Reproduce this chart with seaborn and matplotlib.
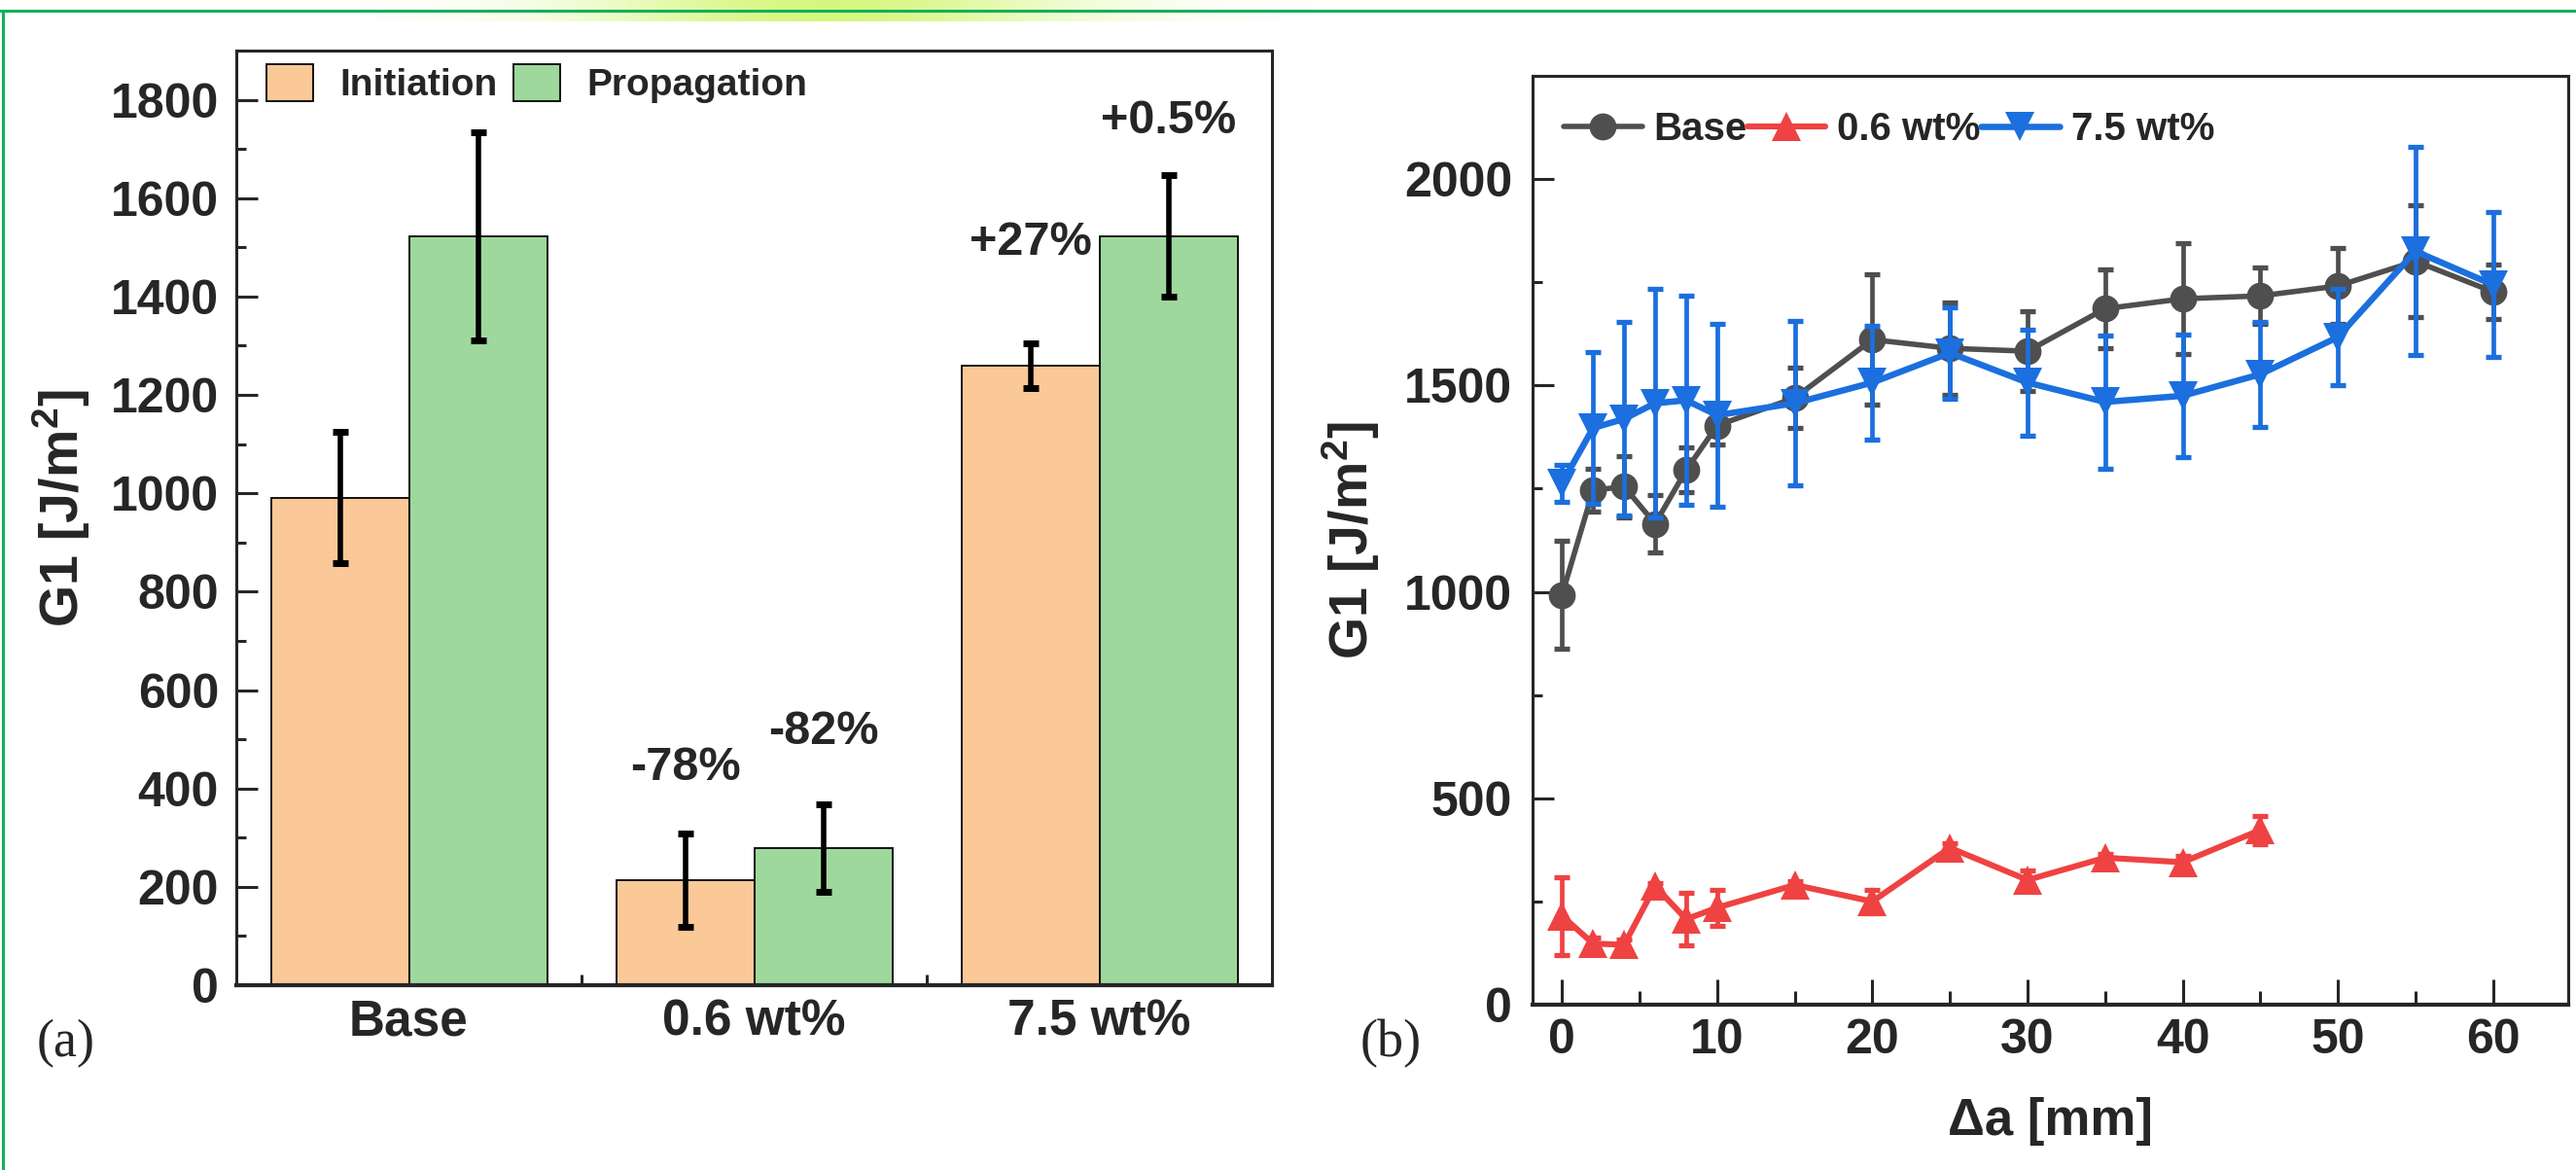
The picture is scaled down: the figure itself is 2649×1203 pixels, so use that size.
import numpy as np
import pandas as pd
import matplotlib.pyplot as plt
import seaborn as sns
from matplotlib.ticker import MultipleLocator, FixedLocator
from matplotlib.lines import Line2D
import matplotlib.patches as mpatches

# ---- (a) initiation / propagation bars
groups = ['Base', '0.6 wt%', '7.5 wt%']
init_mean = [991, 213, 1259]
init_err = [133, 95, 45]
prop_mean = [1522, 279, 1523]
prop_err = [212, 89, 123]
init_change = ['', '-78%', '+27%']
prop_change = ['', '-82%', '+0.5%']

# ---- (b) R-curves
da = [0, 2, 4, 6, 8, 10, 15, 20, 25, 30, 35, 40, 45, 50, 55, 60]
base_g1 = [993, 1246, 1255, 1165, 1295, 1403, 1470, 1611, 1590, 1583, 1686, 1710, 1717, 1741, 1801, 1727]
base_err = [130, 52, 74, 70, 54, 45, 74, 158, 112, 97, 95, 134, 68, 92, 136, 65]
da_low = [0, 2, 4, 6, 8, 10, 15, 20, 25, 30, 35, 40, 45]
low_g1 = [215, 148, 145, 287, 207, 235, 290, 250, 380, 302, 356, 345, 423]
low_err = [94, 15, 12, 8, 64, 44, 10, 28, 12, 22, 10, 15, 34]
high_g1 = [1263, 1397, 1419, 1457, 1464, 1428, 1457, 1507, 1579, 1507, 1460, 1475, 1527, 1617, 1825, 1744]
high_err = [45, 183, 235, 276, 253, 221, 200, 137, 111, 128, 162, 149, 128, 117, 252, 175]

# label heights for the % changes (layout only)
init_txt_y = [0, 418, 1484]
prop_txt_y = [0, 490, 1732]

c_init, c_prop = '#FBC898', '#9ED89D'
c_base, c_low, c_high = '#4F4F4F', '#EF4242', '#1B6FDE'
c_frame = '#12B05A'

sns.set_theme(style='ticks')
plt.rcParams['font.family'] = ['Liberation Sans', 'DejaVu Sans']
plt.rcParams['font.weight'] = 'bold'
plt.rcParams['axes.labelweight'] = 'bold'
plt.rcParams['mathtext.fontset'] = 'custom'
plt.rcParams['mathtext.rm'] = 'Liberation Sans:bold'
plt.rcParams['mathtext.bf'] = 'Liberation Sans:bold'
plt.rcParams['mathtext.default'] = 'bf'

W, H = 2649, 1203
fig = plt.figure(figsize=(W / 100, H / 100), dpi=100)
fig.patch.set_facecolor('white')

# page decoration: gradient strip and green frame
gax = fig.add_axes([370 / W, 1 - 22 / H, 980 / W, 22 / H])
xs = np.linspace(-1, 1, 500)
prof = np.exp(-((xs + 0.02) / 0.5) ** 2)
img = np.zeros((1, 500, 4))
img[..., 0], img[..., 1], img[..., 2] = 0.84, 0.97, 0.50
img[..., 3] = prof
gax.imshow(img, aspect='auto')
gax.axis('off')
fig.add_artist(Line2D([0, 1], [1 - 11 / H] * 2, transform=fig.transFigure, color=c_frame, lw=2.2))
fig.add_artist(Line2D([2.5 / W] * 2, [0, 1 - 11 / H], transform=fig.transFigure, color=c_frame, lw=2.2))

ax1 = fig.add_axes([243 / W, 1 - 1013 / H, 1065 / W, 961 / H])
ax2 = fig.add_axes([1576 / W, 1 - 1033 / H, 1065 / W, 955 / H])

# ---------------- (a)
df = pd.DataFrame({'group': groups * 2,
                   'mode': ['Initiation'] * 3 + ['Propagation'] * 3,
                   'G1': init_mean + prop_mean})
sns.barplot(data=df, x='group', y='G1', hue='mode', palette=[c_init, c_prop],
            saturation=1, edgecolor='black', linewidth=1.3, errorbar=None, width=0.8,
            legend=False, ax=ax1)
for cont, errs, labs, ty in zip(ax1.containers, [init_err, prop_err],
                                [init_change, prop_change], [init_txt_y, prop_txt_y]):
    xs_b = [b.get_x() + b.get_width() / 2 for b in cont]
    ys_b = [b.get_height() for b in cont]
    ax1.errorbar(xs_b, ys_b, yerr=errs, fmt='none', ecolor='black',
                 elinewidth=4, capsize=5.5, capthick=5, zorder=5)
    for xb, lab, yt in zip(xs_b, labs, ty):
        if lab:
            ax1.text(xb, yt, lab, ha='center', va='baseline', fontsize=35, fontweight='bold')

ax1.set_xlim(-0.5, 2.5)
ax1.set_ylim(0, 1900)
ax1.yaxis.set_major_locator(MultipleLocator(200))
ax1.yaxis.set_minor_locator(MultipleLocator(100))
ax1.xaxis.set_minor_locator(FixedLocator([0.5, 1.5]))
ax1.set_xlabel('')
ax1.set_ylabel('G1 [J/m$^2$]', fontsize=40)
ax1.yaxis.set_label_coords(-0.139, 0.51)
ax1.tick_params(axis='y', which='major', direction='in', length=16, width=2.2, labelsize=36, pad=13)
ax1.tick_params(axis='y', which='minor', direction='in', length=7, width=2.2)
ax1.tick_params(axis='x', which='major', direction='in', length=17, width=2.2, labelsize=37, pad=10)
ax1.tick_params(axis='x', which='minor', direction='in', length=8, width=2.2)
for s in ax1.spines.values():
    s.set_linewidth(2.2)
    s.set_visible(True)
ax1.spines['bottom'].set_linewidth(3)
for t in ax1.get_xticklabels() + ax1.get_yticklabels():
    t.set_fontweight('bold')

hnd = [mpatches.Patch(facecolor=c_init, edgecolor='black', linewidth=1.3, label='Initiation'),
       mpatches.Patch(facecolor=c_prop, edgecolor='black', linewidth=1.3, label='Propagation')]
ax1.legend(handles=hnd, loc='upper left', bbox_to_anchor=(0.029, 0.985), ncol=2,
           frameon=False, borderpad=0, borderaxespad=0, handlelength=1.25, handleheight=1.1,
           handletextpad=0.7, columnspacing=0.4, prop={'size': 28, 'weight': 'bold'})

# ---------------- (b)
series = [(da, base_g1, base_err, c_base, 'o', 20, 4.0, 'Base'),
          (da_low, low_g1, low_err, c_low, '^', 22, 4.4, '0.6 wt%'),
          (da, high_g1, high_err, c_high, 'v', 22, 4.7, '7.5 wt%')]
for i, (x, y, e, c, m, ms, lw, lab) in enumerate(series):
    z = 3 + i
    ax2.errorbar(x, y, yerr=e, fmt='none', ecolor=c, elinewidth=3.4,
                 capsize=5.8, capthick=3.8, zorder=z)
    sns.lineplot(x=x, y=y, ax=ax2, color=c, marker=m, markersize=ms, markeredgewidth=0,
                 linewidth=lw, label=lab, zorder=z)

ax2.set_xlim(-1.9, 64.85)
ax2.set_ylim(0, 2250)
ax2.xaxis.set_major_locator(MultipleLocator(10))
ax2.xaxis.set_minor_locator(MultipleLocator(5))
ax2.yaxis.set_major_locator(FixedLocator([0, 500, 1000, 1500, 2000]))
ax2.yaxis.set_minor_locator(MultipleLocator(250))
ax2.set_xlabel('\u0394a [mm]', fontsize=38, labelpad=25)
ax2.set_ylabel('G1 [J/m$^2$]', fontsize=40)
ax2.yaxis.set_label_coords(-0.146, 0.5)
ax2.tick_params(axis='y', which='major', direction='in', length=16, width=2.2, labelsize=36, pad=15)
ax2.tick_params(axis='y', which='minor', direction='in', length=7, width=2.2)
ax2.tick_params(axis='x', which='major', direction='in', length=19, width=2.2, labelsize=36, pad=10)
ax2.tick_params(axis='x', which='minor', direction='in', length=10, width=2.2)
for s in ax2.spines.values():
    s.set_linewidth(2.2)
    s.set_visible(True)
ax2.spines['bottom'].set_linewidth(3)
for t in ax2.get_xticklabels() + ax2.get_yticklabels():
    t.set_fontweight('bold')

h2, l2 = ax2.get_legend_handles_labels()
ax2.legend(h2, l2, loc='upper left', bbox_to_anchor=(0.030, 0.962), ncol=3, frameon=False,
           borderpad=0, borderaxespad=0, handlelength=2.0, handletextpad=0.3,
           columnspacing=0.0, prop={'size': 29, 'weight': 'bold'})

# panel tags
fig.text(68 / W, 1 - 1073 / H, '(a)', ha='center', va='center', fontsize=39,
         family=['Liberation Serif', 'DejaVu Serif'], fontweight='normal')
fig.text(1430 / W, 1 - 1073 / H, '(b)', ha='center', va='center', fontsize=39,
         family=['Liberation Serif', 'DejaVu Serif'], fontweight='normal')

fig.savefig('out.png', dpi=100)
